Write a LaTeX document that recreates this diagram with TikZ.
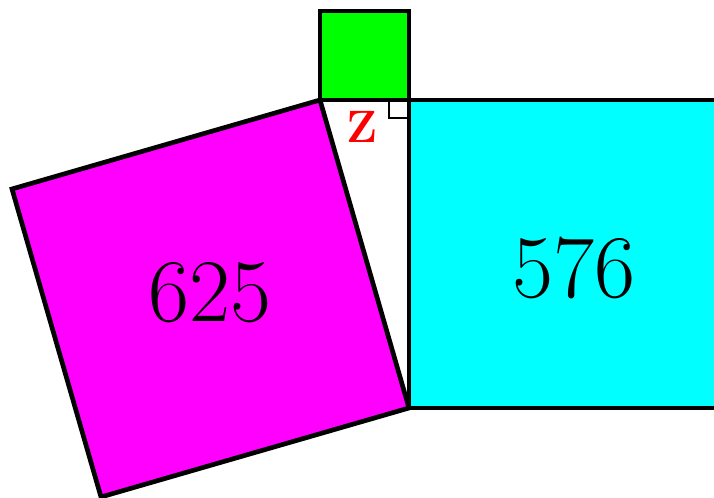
\documentclass[tikz,border=0pt]{standalone}
\usepackage{tikz}

\definecolor{sqgreen}{RGB}{0,255,0}
\definecolor{sqcyan}{RGB}{0,255,255}
\definecolor{sqmagenta}{RGB}{255,0,255}
\definecolor{lblred}{RGB}{255,0,0}

\tikzset{every picture/.style={line width=3.5pt},
  sqedge/.style={draw=black,line join=miter},
  arealabel/.style={inner sep=0pt,font=\fontsize{67}{80}\selectfont},
  anglelabel/.style={inner sep=0pt,text=lblred,font=\fontsize{34}{40}\selectfont\bfseries}}

\begin{document}
\begin{tikzpicture}[x=0.75pt,y=0.75pt,yscale=-1,xscale=1]
\useasboundingbox (0,0) rectangle (714,498);
\clip (0,0) rectangle (714,498);
%corners of the right triangle
\coordinate (A) at (320,100);
\coordinate (B) at (409,100);
\coordinate (C) at (409,408);
%Shape: Square [id:green]
\draw [sqedge, fill=sqgreen] (A) -- (B) -- (409,11) -- (320,11) -- cycle ;
%Shape: Square [id:cyan]
\draw [sqedge, fill=sqcyan] (B) -- (717,100) -- (717,408) -- (C) -- cycle ;
%Shape: Square [id:magenta]
\draw [sqedge, fill=sqmagenta] (A) -- (C) -- (101,497) -- (12,189) -- cycle ;
%Shape: Right angle
\draw [line width=2.2pt] (389,100) -- (389,118) -- (409,118) ;

% Text Node
\node [arealabel] (sq625) at (210,293) {625};
% Text Node
\node [arealabel] (sq576) at (574,268) {576};
% Text Node
\node [anglelabel] (angz) at (362,127) {Z};

\end{tikzpicture}
\end{document}
